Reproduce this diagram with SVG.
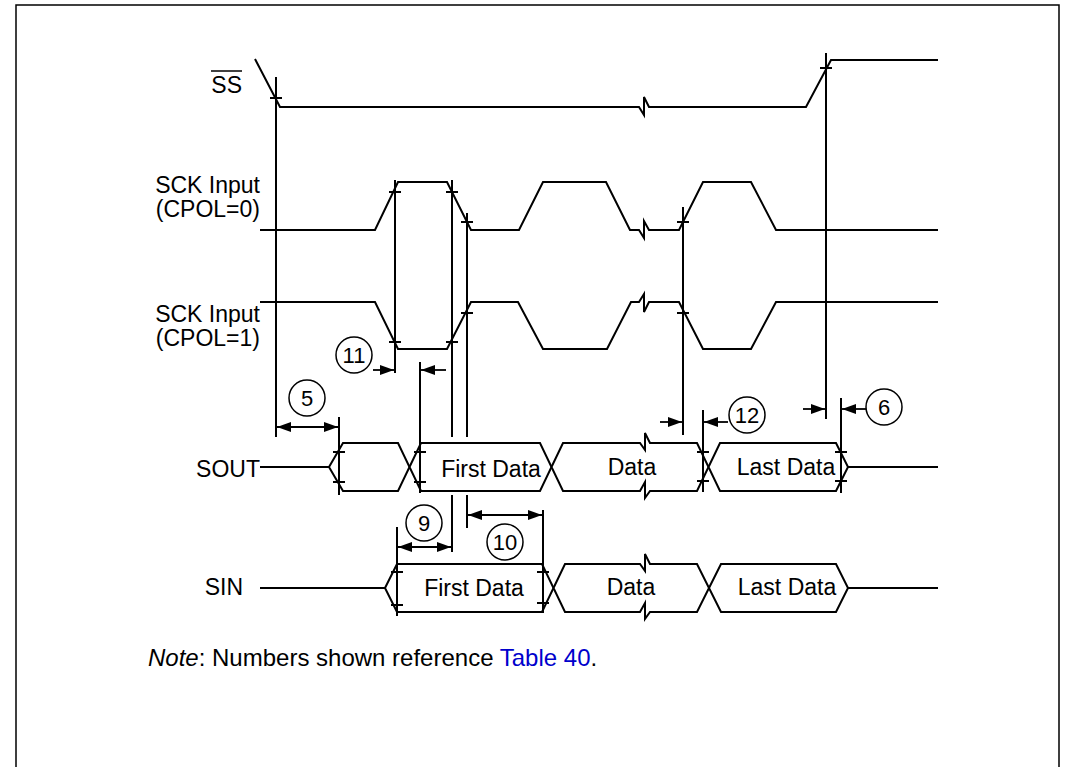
<svg xmlns="http://www.w3.org/2000/svg" width="1074" height="767" viewBox="0 0 1074 767">
<defs>
<marker id="ah" viewBox="0 0 14 10" refX="14" refY="5" markerWidth="14" markerHeight="10" markerUnits="userSpaceOnUse" orient="auto-start-reverse"><path d="M0,0 L14,5 L0,10 z" fill="#000"/></marker>
</defs>
<style>
.sig{fill:none;stroke:#000;stroke-width:2;stroke-linejoin:miter}
.bus{fill:#fff;stroke:#000;stroke-width:2}
.mk{stroke:#000;stroke-width:2;fill:none}
.ar{stroke:#000;stroke-width:1.8;fill:none}
.lbl{font-family:"Liberation Sans",Arial,sans-serif;font-size:23px;fill:#000}
.num{font-family:"Liberation Sans",Arial,sans-serif;font-size:22px;fill:#000;text-anchor:middle}
.cir{fill:#fff;stroke:#000;stroke-width:1.5}
</style>
<rect x="0" y="0" width="1074" height="767" fill="#fff"/>
<path d="M16,767 V5 H1059 V767" fill="none" stroke="#000" stroke-width="1.5"/>

<g id="labels" class="lbl">
<text x="242" y="93" text-anchor="end">SS</text>
<line x1="211" y1="71" x2="242" y2="71" stroke="#000" stroke-width="1.5"/>
<text x="260" y="193" text-anchor="end">SCK Input</text>
<text x="260" y="217" text-anchor="end">(CPOL=0)</text>
<text x="260" y="322" text-anchor="end">SCK Input</text>
<text x="260" y="346" text-anchor="end">(CPOL=1)</text>
<text x="260" y="477" text-anchor="end">SOUT</text>
<text x="243" y="595" text-anchor="end">SIN</text>
</g>

<g id="connectors">
<g class="mk">
<line x1="276" y1="77" x2="276" y2="437"/>
<line x1="270" y1="98" x2="282" y2="98"/>
<line x1="826" y1="53" x2="826" y2="419"/>
<line x1="820" y1="68" x2="832" y2="68"/>
<line x1="395" y1="180" x2="395" y2="373"/>
<line x1="389" y1="192" x2="401" y2="192"/>
<line x1="389" y1="342" x2="401" y2="342"/>
<line x1="452" y1="180" x2="452" y2="437"/>
<line x1="452" y1="495" x2="452" y2="552"/>
<line x1="446" y1="192" x2="458" y2="192"/>
<line x1="446" y1="342" x2="458" y2="342"/>
<line x1="467" y1="213" x2="467" y2="437"/>
<line x1="467" y1="495" x2="467" y2="528"/>
<line x1="461" y1="222" x2="473" y2="222"/>
<line x1="461" y1="313" x2="473" y2="313"/>
<line x1="683" y1="207" x2="683" y2="435"/>
<line x1="677" y1="222" x2="689" y2="222"/>
<line x1="677" y1="313" x2="689" y2="313"/>
<line x1="420" y1="362" x2="420" y2="437"/>
<line x1="543" y1="510" x2="543" y2="560"/>
<line x1="397" y1="527" x2="397" y2="560"/>
</g>

<polyline id="ss-wave" class="sig" points="255,59 280,107 639,107 644,115 644,97 649,107 806,107 831,60 938,60"/>
<polyline id="sck0-wave" class="sig" points="260,230 375,230 398,182 447,182 471,230 519,230 543,182 606,182 630,230 639,230 644,238 644,221 649,230 679,230 703,182 751,182 776,230 938,230"/>
<polyline id="sck1-wave" class="sig" points="260,302 375,302 398,349 447,349 471,302 518,302 543,349 607,349 631,302 639,302 644,294 644,312 649,302 679,302 703,349 751,349 776,302 938,302"/>

<g class="ar">
<line x1="277" y1="427" x2="338" y2="427" marker-start="url(#ah)" marker-end="url(#ah)"/>
<line x1="373" y1="370" x2="394" y2="370" marker-end="url(#ah)"/>
<line x1="446" y1="370" x2="421" y2="370" marker-end="url(#ah)"/>
<line x1="398" y1="547" x2="451" y2="547" marker-start="url(#ah)" marker-end="url(#ah)"/>
<line x1="468" y1="515" x2="542" y2="515" marker-start="url(#ah)" marker-end="url(#ah)"/>
<line x1="660" y1="422" x2="682" y2="422" marker-end="url(#ah)"/>
<line x1="728" y1="422" x2="704" y2="422" marker-end="url(#ah)"/>
<line x1="803" y1="409" x2="825" y2="409" marker-end="url(#ah)"/>
<line x1="866" y1="409" x2="842" y2="409" marker-end="url(#ah)"/>
</g>
</g>

<g id="sout">
<line x1="260" y1="467" x2="329" y2="467" class="sig"/>
<polygon class="bus" points="329,467 343,443 398,443 409.5,467 398,491 343,491"/>
<polygon class="bus" points="409.5,467 421,443 540,443 551.5,467 540,491 421,491"/>
<path class="bus" d="M551.5,467 L563,443 H640 L645,450 V433 L650,443 H697 L708.5,467 L697,491 H650 L645,498 V482 L640,491 H563 Z"/>
<polygon class="bus" points="708.5,467 720,443 836,443 848,467 836,491 720,491"/>
<line x1="848" y1="467" x2="938" y2="467" class="sig"/>
<g class="mk">
<line x1="339" y1="417" x2="339" y2="495"/>
<line x1="333" y1="452" x2="345" y2="452"/>
<line x1="333" y1="482" x2="345" y2="482"/>
<line x1="420" y1="437" x2="420" y2="493"/>
<line x1="414" y1="452" x2="426" y2="452"/>
<line x1="414" y1="482" x2="426" y2="482"/>
<line x1="703" y1="410" x2="703" y2="492"/>
<line x1="697" y1="452" x2="709" y2="452"/>
<line x1="697" y1="481" x2="709" y2="481"/>
<line x1="841" y1="398" x2="841" y2="493"/>
<line x1="835" y1="452" x2="847" y2="452"/>
<line x1="835" y1="481" x2="847" y2="481"/>
</g>
<text class="lbl" x="491" y="477" text-anchor="middle">First Data</text>
<text class="lbl" x="632" y="475" text-anchor="middle">Data</text>
<text class="lbl" x="786" y="475" text-anchor="middle">Last Data</text>
</g>

<g id="sin">
<line x1="260" y1="588" x2="385" y2="588" class="sig"/>
<polygon class="bus" points="385,588 397,564 542,564 553.5,588 542,612 397,612"/>
<path class="bus" d="M553.5,588 L565,564 H640 L645,571 V554 L650,564 H697 L709,588 L697,612 H650 L645,619 V603 L640,612 H565 Z"/>
<polygon class="bus" points="709,588 721,564 836,564 848,588 836,612 721,612"/>
<line x1="848" y1="588" x2="938" y2="588" class="sig"/>
<g class="mk">
<line x1="397" y1="558" x2="397" y2="616"/>
<line x1="391" y1="572" x2="403" y2="572"/>
<line x1="391" y1="605" x2="403" y2="605"/>
<line x1="543" y1="558" x2="543" y2="613"/>
<line x1="537" y1="572" x2="549" y2="572"/>
<line x1="537" y1="603" x2="549" y2="603"/>
</g>
<text class="lbl" x="474" y="596" text-anchor="middle">First Data</text>
<text class="lbl" x="631" y="595" text-anchor="middle">Data</text>
<text class="lbl" x="787" y="595" text-anchor="middle">Last Data</text>
</g>

<g id="n11"><circle class="cir" cx="354" cy="355" r="18"/><text class="num" x="354" y="363">11</text></g>
<g id="n5"><circle class="cir" cx="307" cy="398" r="18"/><text class="num" x="307" y="406">5</text></g>
<g id="n12"><circle class="cir" cx="747" cy="415" r="18"/><text class="num" x="747" y="423">12</text></g>
<g id="n6"><circle class="cir" cx="884" cy="407" r="18"/><text class="num" x="884" y="415">6</text></g>
<g id="n9"><circle class="cir" cx="424" cy="523" r="18"/><text class="num" x="424" y="531">9</text></g>
<g id="n10"><circle class="cir" cx="505" cy="542" r="18"/><text class="num" x="505" y="550">10</text></g>

<g id="note">
<text class="lbl" style="font-size:24px" x="148" y="666"><tspan font-style="italic">Note</tspan>: Numbers shown reference <tspan fill="#0000cc">Table 40</tspan>.</text>
</g>
</svg>
